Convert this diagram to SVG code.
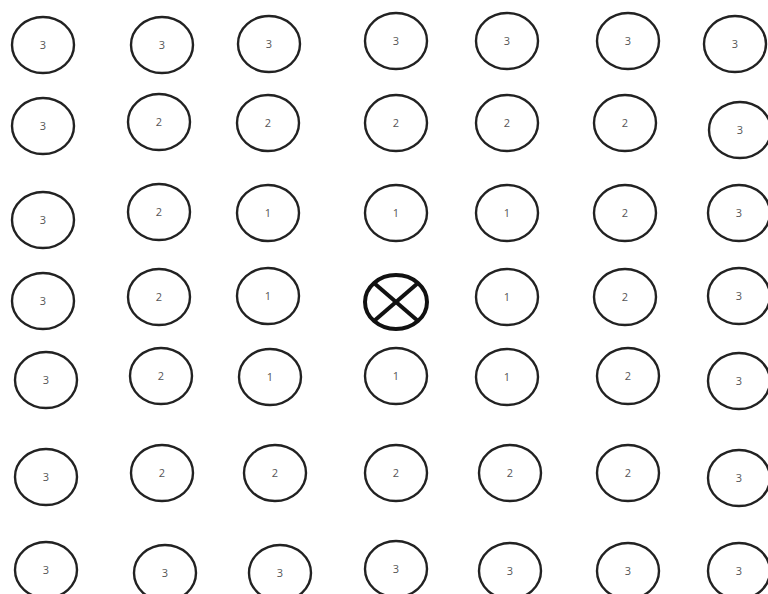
<svg xmlns="http://www.w3.org/2000/svg" width="768" height="594" viewBox="0 0 768 594">
<style>
.n ellipse{fill:#fff;stroke:#222;stroke-width:2.4}
.n text{font-family:"Open Sans","Liberation Sans",sans-serif;font-size:11px;fill:#555;text-anchor:middle}
.x ellipse{fill:#fff;stroke:#111;stroke-width:4}
.x line{stroke:#111;stroke-width:4}
</style>
<rect width="768" height="594" fill="#fff"/>
<g id="connectors"></g>
<g id="n00" class="n"><ellipse cx="43" cy="45" rx="31" ry="28"/><text x="43" y="49">3</text></g>
<g id="n01" class="n"><ellipse cx="162" cy="45" rx="31" ry="28"/><text x="162" y="49">3</text></g>
<g id="n02" class="n"><ellipse cx="269" cy="44" rx="31" ry="28"/><text x="269" y="48">3</text></g>
<g id="n03" class="n"><ellipse cx="396" cy="41" rx="31" ry="28"/><text x="396" y="45">3</text></g>
<g id="n04" class="n"><ellipse cx="507" cy="41" rx="31" ry="28"/><text x="507" y="45">3</text></g>
<g id="n05" class="n"><ellipse cx="628" cy="41" rx="31" ry="28"/><text x="628" y="45">3</text></g>
<g id="n06" class="n"><ellipse cx="735" cy="44" rx="31" ry="28"/><text x="735" y="48">3</text></g>

<g id="n10" class="n"><ellipse cx="43" cy="126" rx="31" ry="28"/><text x="43" y="130">3</text></g>
<g id="n11" class="n"><ellipse cx="159" cy="122" rx="31" ry="28"/><text x="159" y="126">2</text></g>
<g id="n12" class="n"><ellipse cx="268" cy="123" rx="31" ry="28"/><text x="268" y="127">2</text></g>
<g id="n13" class="n"><ellipse cx="396" cy="123" rx="31" ry="28"/><text x="396" y="127">2</text></g>
<g id="n14" class="n"><ellipse cx="507" cy="123" rx="31" ry="28"/><text x="507" y="127">2</text></g>
<g id="n15" class="n"><ellipse cx="625" cy="123" rx="31" ry="28"/><text x="625" y="127">2</text></g>
<g id="n16" class="n"><ellipse cx="740" cy="130" rx="31" ry="28"/><text x="740" y="134">3</text></g>

<g id="n20" class="n"><ellipse cx="43" cy="220" rx="31" ry="28"/><text x="43" y="224">3</text></g>
<g id="n21" class="n"><ellipse cx="159" cy="212" rx="31" ry="28"/><text x="159" y="216">2</text></g>
<g id="n22" class="n"><ellipse cx="268" cy="213" rx="31" ry="28"/><text x="268" y="217">1</text></g>
<g id="n23" class="n"><ellipse cx="396" cy="213" rx="31" ry="28"/><text x="396" y="217">1</text></g>
<g id="n24" class="n"><ellipse cx="507" cy="213" rx="31" ry="28"/><text x="507" y="217">1</text></g>
<g id="n25" class="n"><ellipse cx="625" cy="213" rx="31" ry="28"/><text x="625" y="217">2</text></g>
<g id="n26" class="n"><ellipse cx="739" cy="213" rx="31" ry="28"/><text x="739" y="217">3</text></g>

<g id="n30" class="n"><ellipse cx="43" cy="301" rx="31" ry="28"/><text x="43" y="305">3</text></g>
<g id="n31" class="n"><ellipse cx="159" cy="297" rx="31" ry="28"/><text x="159" y="301">2</text></g>
<g id="n32" class="n"><ellipse cx="268" cy="296" rx="31" ry="28"/><text x="268" y="300">1</text></g>
<g id="source" class="x"><ellipse cx="396" cy="302" rx="31" ry="27"/><line x1="374" y1="283" x2="418" y2="321"/><line x1="418" y1="283" x2="374" y2="321"/></g>
<g id="n34" class="n"><ellipse cx="507" cy="297" rx="31" ry="28"/><text x="507" y="301">1</text></g>
<g id="n35" class="n"><ellipse cx="625" cy="297" rx="31" ry="28"/><text x="625" y="301">2</text></g>
<g id="n36" class="n"><ellipse cx="739" cy="296" rx="31" ry="28"/><text x="739" y="300">3</text></g>

<g id="n40" class="n"><ellipse cx="46" cy="380" rx="31" ry="28"/><text x="46" y="384">3</text></g>
<g id="n41" class="n"><ellipse cx="161" cy="376" rx="31" ry="28"/><text x="161" y="380">2</text></g>
<g id="n42" class="n"><ellipse cx="270" cy="377" rx="31" ry="28"/><text x="270" y="381">1</text></g>
<g id="n43" class="n"><ellipse cx="396" cy="376" rx="31" ry="28"/><text x="396" y="380">1</text></g>
<g id="n44" class="n"><ellipse cx="507" cy="377" rx="31" ry="28"/><text x="507" y="381">1</text></g>
<g id="n45" class="n"><ellipse cx="628" cy="376" rx="31" ry="28"/><text x="628" y="380">2</text></g>
<g id="n46" class="n"><ellipse cx="739" cy="381" rx="31" ry="28"/><text x="739" y="385">3</text></g>

<g id="n50" class="n"><ellipse cx="46" cy="477" rx="31" ry="28"/><text x="46" y="481">3</text></g>
<g id="n51" class="n"><ellipse cx="162" cy="473" rx="31" ry="28"/><text x="162" y="477">2</text></g>
<g id="n52" class="n"><ellipse cx="275" cy="473" rx="31" ry="28"/><text x="275" y="477">2</text></g>
<g id="n53" class="n"><ellipse cx="396" cy="473" rx="31" ry="28"/><text x="396" y="477">2</text></g>
<g id="n54" class="n"><ellipse cx="510" cy="473" rx="31" ry="28"/><text x="510" y="477">2</text></g>
<g id="n55" class="n"><ellipse cx="628" cy="473" rx="31" ry="28"/><text x="628" y="477">2</text></g>
<g id="n56" class="n"><ellipse cx="739" cy="478" rx="31" ry="28"/><text x="739" y="482">3</text></g>

<g id="n60" class="n"><ellipse cx="46" cy="570" rx="31" ry="28"/><text x="46" y="574">3</text></g>
<g id="n61" class="n"><ellipse cx="165" cy="573" rx="31" ry="28"/><text x="165" y="577">3</text></g>
<g id="n62" class="n"><ellipse cx="280" cy="573" rx="31" ry="28"/><text x="280" y="577">3</text></g>
<g id="n63" class="n"><ellipse cx="396" cy="569" rx="31" ry="28"/><text x="396" y="573">3</text></g>
<g id="n64" class="n"><ellipse cx="510" cy="571" rx="31" ry="28"/><text x="510" y="575">3</text></g>
<g id="n65" class="n"><ellipse cx="628" cy="571" rx="31" ry="28"/><text x="628" y="575">3</text></g>
<g id="n66" class="n"><ellipse cx="739" cy="571" rx="31" ry="28"/><text x="739" y="575">3</text></g>
</svg>
